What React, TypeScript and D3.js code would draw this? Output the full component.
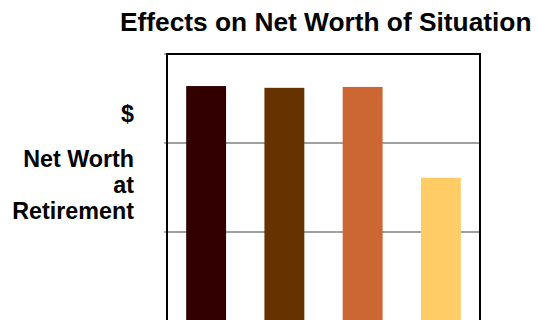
import React from "react";
import * as d3 from "d3";

const categories = ["A", "B", "C", "D"];
const values = [2.64, 2.62, 2.63, 1.61];
const colors = ["#330000", "#663300", "#CC6633", "#FFCC66"];
const yTicks = [0, 1, 2, 3];
const title = "Effects on Net Worth of Situation";
const yLabelTop = "$";
const yLabelLines = ["Net Worth", "at", "Retirement"];

export default function App() {
  const W = 537;
  const H = 340;
  const left = 167;
  const right = 480;
  const top = 54;
  const bottom = 321;

  const x = d3.scaleBand<string>().domain(categories).range([left, right]).paddingInner(0.49).paddingOuter(0.245);
  const y = d3.scaleLinear().domain([0, 3]).range([bottom, top]);

  const font = "'Liberation Sans', Arial, sans-serif";

  return (
    <svg
      width={W}
      height={H}
      style={{ position: "absolute", left: 0, top: 0, background: "#fff" }}
    >
      <text x={120} y={31} fontFamily={font} fontWeight="bold" fontSize={26.3} fill="#000">
        {title}
      </text>
      {yTicks.slice(1, -1).map((t) => (
        <line key={t} x1={left} x2={right} y1={y(t)} y2={y(t)} stroke="#808080" strokeWidth={1.3} />
      ))}
      {yTicks.map((t) => (
        <line key={"tk" + t} x1={left - 3} x2={left} y1={y(t)} y2={y(t)} stroke="#808080" strokeWidth={1.3} />
      ))}
      {categories.map((c, i) => (
        <rect
          key={c}
          x={x(c)}
          y={y(values[i])}
          width={x.bandwidth()}
          height={y(0) - y(values[i])}
          fill={colors[i]}
        />
      ))}
      <rect x={left} y={top} width={right - left} height={bottom - top} fill="none" stroke="#000" strokeWidth={2} />
      <text x={134} y={122} textAnchor="end" fontFamily={font} fontWeight="bold" fontSize={23.3} fill="#000">
        {yLabelTop}
      </text>
      {yLabelLines.map((l, i) => (
        <text key={l} x={134} y={167 + i * 26} textAnchor="end" fontFamily={font} fontWeight="bold" fontSize={23.3} fill="#000">
          {l}
        </text>
      ))}
    </svg>
  );
}
